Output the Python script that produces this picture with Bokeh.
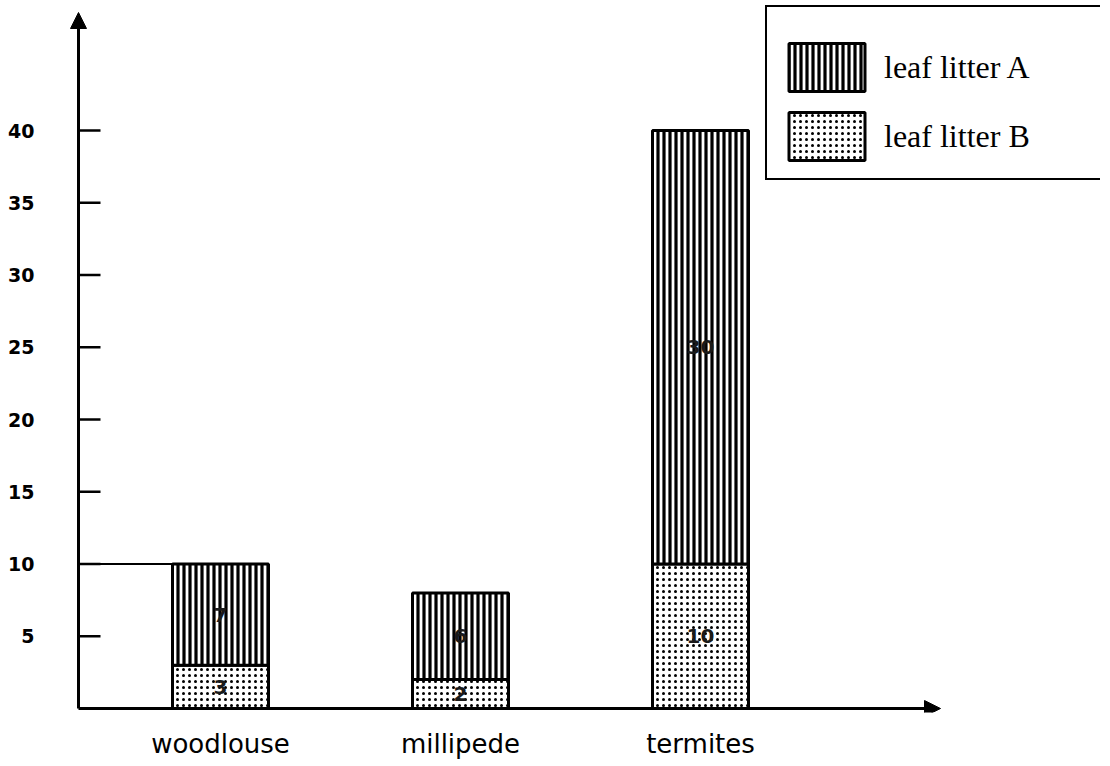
from bokeh.plotting import figure
from bokeh.models import (FixedTicker, Legend, LegendItem, Arrow, NormalHead,
                          ColumnDataSource, Range1d)
from bokeh.core.properties import value
from bokeh.embed import file_html
from bokeh.resources import INLINE

# ---- data ----
categories = ["woodlouse", "millipede", "termites"]
leaf_litter_B = [3, 2, 10]
leaf_litter_A = [7, 6, 30]
y_ticks = [5, 10, 15, 20, 25, 30, 35, 40]

idx = list(range(len(categories)))
tops_B = leaf_litter_B
tops_A = [b + a for a, b in zip(leaf_litter_A, leaf_litter_B)]

# ---- layout constants (scale: 240 px per category, 14.45 px per unit) ----
PXX, PXY = 240.0, 14.45
W, H = 1100, 764
BL, BR, BT, BB = 64, 0, 4, 52
X0 = -(220 - BL) / PXX          # frame left
X1 = (W - BR - 220) / PXX       # frame right
XA = -(220 - 78) / PXX          # drawn y-axis position
XT = (940 - 220) / PXX          # x-axis arrow tip
Y0 = -(H - BB - 708) / PXY      # frame bottom (axis at 0 sits just above)
Y1 = (708 - BT) / PXY           # frame top
YT = (708 - 12) / PXY           # y-axis arrow tip
BAR_W = 0.4

p = figure(width=W, height=H, output_backend="svg", toolbar_location=None,
           x_range=Range1d(X0, X1), y_range=Range1d(Y0, Y1),
           min_border_left=BL, min_border_right=BR, min_border_top=BT,
           min_border_bottom=BB)
p.outline_line_color = None
p.xgrid.grid_line_color = None
p.ygrid.grid_line_color = None
p.background_fill_color = "white"
p.border_fill_color = "white"

src = ColumnDataSource(dict(x=idx, b=tops_B, a=tops_A,
                            bmid=[v / 2 for v in tops_B],
                            amid=[(b + t) / 2 for b, t in zip(tops_B, tops_A)],
                            blab=[str(v) for v in leaf_litter_B],
                            alab=[str(v) for v in leaf_litter_A]))

rB = p.vbar(x="x", bottom=0, top="b", width=BAR_W, source=src,
            fill_color="white", line_color="black", line_width=3,
            hatch_pattern="dot", hatch_color="black", hatch_scale=6, hatch_weight=2)
rA = p.vbar(x="x", bottom="b", top="a", width=BAR_W, source=src,
            fill_color="white", line_color="black", line_width=3,
            hatch_pattern="vertical_line", hatch_color="black", hatch_scale=6, hatch_weight=3.2)

for ycol, tcol in (("bmid", "blab"), ("amid", "alab")):
    p.text(x="x", y=ycol, text=tcol, source=src, text_align="center",
           text_baseline="middle", text_font=value("DejaVu Sans"),
           text_font_style="bold", text_font_size="20px", text_color="#1a1a1a")

# reference line at woodlouse total
p.segment(x0=[XA], y0=[tops_A[0]], x1=[idx[0] - BAR_W / 2], y1=[tops_A[0]],
          line_color="black", line_width=2)

# inward tick marks on the drawn y axis
p.segment(x0=[XA] * len(y_ticks), y0=y_ticks, x1=[XA + 22 / PXX] * len(y_ticks),
          y1=y_ticks, line_color="black", line_width=2.5)

# axes (labels only; lines drawn as arrows)
p.yaxis.ticker = FixedTicker(ticks=y_ticks)
p.yaxis.minor_tick_line_color = None
p.yaxis.major_tick_line_color = None
p.yaxis.axis_line_color = None
p.yaxis.major_label_text_font = "DejaVu Sans"
p.yaxis.major_label_text_font_style = "bold"
p.yaxis.major_label_text_font_size = "19px"
p.yaxis.major_label_text_color = "black"
p.yaxis.major_label_standoff = 24

p.xaxis.ticker = FixedTicker(ticks=idx)
p.xaxis.major_label_overrides = {i: c for i, c in zip(idx, categories)}
p.xaxis.major_tick_line_color = None
p.xaxis.minor_tick_line_color = None
p.xaxis.axis_line_color = None
p.xaxis.major_label_text_font = "DejaVu Sans"
p.xaxis.major_label_text_font_size = "26px"
p.xaxis.major_label_text_color = "black"
p.xaxis.major_label_standoff = 10

p.add_layout(Arrow(end=NormalHead(size=16, fill_color="black", line_color="black"),
                   x_start=XA, y_start=0, x_end=XA, y_end=YT,
                   line_color="black", line_width=3))
p.add_layout(Arrow(end=NormalHead(size=16, fill_color="black", line_color="black"),
                   x_start=XA, y_start=0, x_end=XT, y_end=0,
                   line_color="black", line_width=3))

legend = Legend(items=[LegendItem(label="leaf litter A", renderers=[rA]),
                       LegendItem(label="leaf litter B", renderers=[rB])],
                location=(765 - BL, (H - BB) - 180), orientation="vertical",
                title=" ", title_text_font_size="12px", title_standoff=4,
                glyph_width=95, glyph_height=60, spacing=9, padding=12,
                label_standoff=10, label_width=209, label_height=60,
                label_text_font="Liberation Serif", label_text_font_size="32px",
                label_text_color="black",
                border_line_color="black", border_line_width=2.5, border_line_alpha=1.0,
                background_fill_color="white", background_fill_alpha=1.0)
p.add_layout(legend)

open("out.html", "w").write(file_html(p, INLINE))
